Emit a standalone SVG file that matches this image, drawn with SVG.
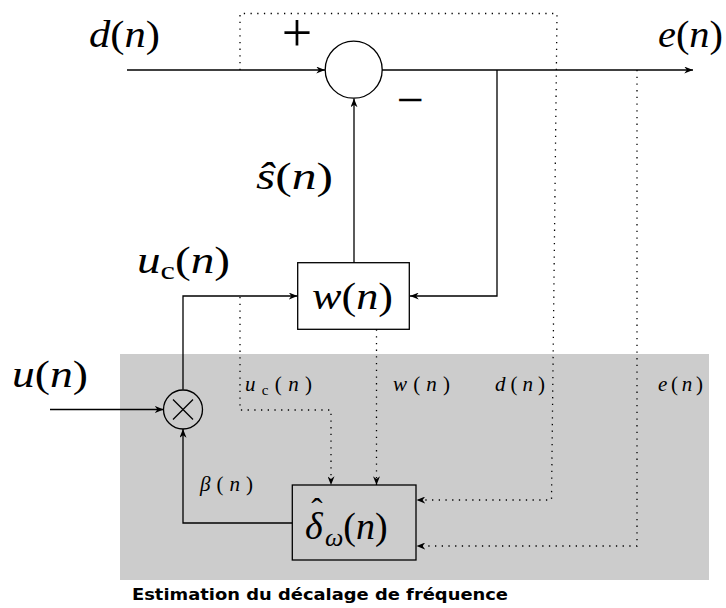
<svg xmlns="http://www.w3.org/2000/svg" width="726" height="608" viewBox="0 0 726 608">
<style>
.ln{fill:none;stroke:#000;stroke-width:1.3}
.dot{fill:none;stroke:#000;stroke-width:1.3;stroke-dasharray:1.3 5.4}
.nd{fill:none;stroke:#000;stroke-width:1.3}
.m{font-family:"Liberation Serif","Times New Roman",serif;fill:#000}
.i{font-style:italic}
.big{font-size:38px}
.sm{font-size:21px}
.cap{font-family:"DejaVu Sans",sans-serif;font-weight:bold;font-size:16px;fill:#000}
</style>
<defs>
<marker id="ah" viewBox="0 0 10 8" refX="10" refY="4" markerWidth="9" markerHeight="7" markerUnits="userSpaceOnUse" orient="auto">
<path d="M0,0 L10,4 L0,8 L3,4 z" fill="#000"/>
</marker>
</defs>
<g id="estimation-area">
<rect x="120" y="354" width="589" height="226" fill="#cccccc"/>
<text class="cap" x="132" y="600" textLength="376" lengthAdjust="spacingAndGlyphs">Estimation du décalage de fréquence</text>
</g>
<g id="connectors">
<path class="ln" d="M127,70 H325" marker-end="url(#ah)"/>
<path class="ln" d="M382,70 H693" marker-end="url(#ah)"/>
<path class="ln" d="M497,70 V296 H410" marker-end="url(#ah)"/>
<path class="ln" d="M354,263 V98.5" marker-end="url(#ah)"/>
<path class="ln" d="M183,389.5 V296 H297.5" marker-end="url(#ah)"/>
<path class="ln" d="M50,409.5 H163.5" marker-end="url(#ah)"/>
<path class="ln" d="M292,523 H183 V429" marker-end="url(#ah)"/>
<path class="dot" d="M240,70 V13.5 H557 L551.5,500 H416.5" marker-end="url(#ah)"/>
<path class="dot" d="M637,70 V546 H416.5" marker-end="url(#ah)"/>
<path class="dot" d="M240,297 V410 H331 V485" marker-end="url(#ah)"/>
<path class="dot" d="M376.5,329.5 V485" marker-end="url(#ah)"/>
</g>
<g id="sum">
<circle class="nd" cx="353.7" cy="69.7" r="28.5"/>
<text class="m" x="297" y="51" font-size="54" text-anchor="middle">+</text>
<text class="m" x="410" y="116" font-size="48" text-anchor="middle">−</text>
</g>
<g id="filter-w">
<rect class="nd" x="297.7" y="262.7" width="111.6" height="66.6" fill="#fff"/>
<text class="m big" x="312" y="309" textLength="81" lengthAdjust="spacingAndGlyphs"><tspan class="i">w</tspan>(<tspan class="i">n</tspan>)</text>
</g>
<g id="multiplier">
<circle class="nd" cx="183" cy="409.5" r="19.5" fill="#cccccc"/>
<path class="ln" d="M173,399.5 L193,419.5 M193,399.5 L173,419.5"/>
</g>
<g id="estimator">
<rect class="nd" x="292.3" y="485" width="123.7" height="75" fill="#cccccc"/>
<text class="m big" x="305" y="539"><tspan class="i">δ</tspan><tspan x="317" y="522" font-size="34" text-anchor="middle">ˆ</tspan><tspan x="325" y="546" class="i" font-size="26">ω</tspan><tspan y="539">(</tspan><tspan class="i">n</tspan>)</text>
</g>
<g id="labels">
<text class="m big" x="89" y="47" textLength="71" lengthAdjust="spacingAndGlyphs"><tspan class="i">d</tspan>(<tspan class="i">n</tspan>)</text>
<text class="m big" x="658" y="47" textLength="65" lengthAdjust="spacingAndGlyphs"><tspan class="i">e</tspan>(<tspan class="i">n</tspan>)</text>
<text class="m big" x="256" y="189" textLength="77" lengthAdjust="spacingAndGlyphs"><tspan class="i">ŝ</tspan>(<tspan class="i">n</tspan>)</text>
<text class="m big" x="137" y="273" textLength="93" lengthAdjust="spacingAndGlyphs"><tspan class="i">u</tspan><tspan font-size="26" dy="6">c</tspan><tspan dy="-6">(</tspan><tspan class="i">n</tspan>)</text>
<text class="m big" x="12" y="387" textLength="76" lengthAdjust="spacingAndGlyphs"><tspan class="i">u</tspan>(<tspan class="i">n</tspan>)</text>
<text class="m sm" x="200" y="491" textLength="53" lengthAdjust="spacing"><tspan class="i">β</tspan>(<tspan class="i">n</tspan>)</text>
<text class="m sm" x="245" y="391" textLength="67" lengthAdjust="spacing"><tspan class="i">u</tspan><tspan font-size="15" dy="4">c</tspan><tspan dy="-4">(</tspan><tspan class="i">n</tspan>)</text>
<text class="m sm" x="393" y="391" textLength="57" lengthAdjust="spacing"><tspan class="i">w</tspan>(<tspan class="i">n</tspan>)</text>
<text class="m sm" x="495" y="391" textLength="50" lengthAdjust="spacing"><tspan class="i">d</tspan>(<tspan class="i">n</tspan>)</text>
<text class="m sm" x="658" y="391" textLength="45" lengthAdjust="spacing"><tspan class="i">e</tspan>(<tspan class="i">n</tspan>)</text>
</g>
</svg>
